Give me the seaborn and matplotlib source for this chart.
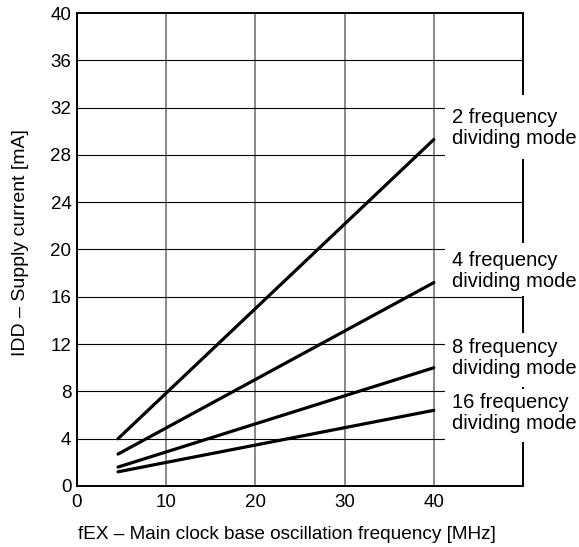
import matplotlib
matplotlib.use("Agg")
import matplotlib.pyplot as plt
import seaborn as sns
import pandas as pd

# data
modes = ["2 frequency\ndividing mode", "4 frequency\ndividing mode",
         "8 frequency\ndividing mode", "16 frequency\ndividing mode"]
freq = [4.6, 40]
current_2 = [4.0, 29.3]
current_4 = [2.7, 17.2]
current_8 = [1.6, 10.0]
current_16 = [1.2, 6.4]
label_y = [30.3, 18.2, 10.8, 6.2]

x_ticks = [0, 10, 20, 30, 40]
y_ticks = list(range(0, 41, 4))

df = pd.DataFrame({
    "freq": freq * 4,
    "current": current_2 + current_4 + current_8 + current_16,
    "mode": [m for m in modes for _ in freq],
})

sns.set_style("white")
plt.rcParams["font.family"] = ["Liberation Sans", "DejaVu Sans"]
plt.rcParams["text.color"] = "black"
plt.rcParams["axes.labelcolor"] = "black"
plt.rcParams["xtick.color"] = "black"
plt.rcParams["ytick.color"] = "black"

fig = plt.figure(figsize=(5.79, 5.47), dpi=100)
ax = fig.add_axes([77 / 579, 1 - 486 / 547, (523 - 77) / 579, (486 - 13) / 547])

# grid: vertical grey, horizontal thin black stopping just past 40
for x in [10, 20, 30, 40]:
    ax.axvline(x, color="#808080", lw=1.3, zorder=1)
for y in y_ticks[1:-1]:
    xmax = 1.0 if y in (16, 24, 36) else 41.1 / 50
    ax.axhline(y, xmin=0, xmax=xmax, color="black", lw=0.8, zorder=1)

sns.lineplot(data=df, x="freq", y="current", units="mode", estimator=None,
             color="black", lw=2.3, ax=ax, zorder=3)

# broken right border
for y0, y1 in [(33.1, 40), (20.55, 27.65), (12.9, 16.07), (8.2, 8.4), (0, 3.7)]:
    ax.plot([50, 50], [y0, y1], color="black", lw=1.4, solid_capstyle="butt",
            clip_on=False, zorder=4)

for m, y in zip(modes, label_y):
    ax.text(42.0, y, m, fontsize=14.5, va="center", ha="left", linespacing=1.12)

ax.set_xlim(0, 50)
ax.set_ylim(0, 40)
ax.set_xticks(x_ticks)
ax.set_yticks(y_ticks)
ax.tick_params(length=0, labelsize=13.5)
ax.tick_params(axis="x", pad=6)
ax.tick_params(axis="y", pad=4)
for s in ["left", "bottom", "top"]:
    ax.spines[s].set_color("black")
    ax.spines[s].set_linewidth(1.4)
ax.spines["right"].set_visible(False)

ax.set_xlabel("fEX – Main clock base oscillation frequency [MHz]", fontsize=13.7)
ax.set_ylabel("IDD – Supply current [mA]", fontsize=14)
ax.xaxis.set_label_coords(0.47, -0.085)
ax.yaxis.set_label_coords(-0.108, 0.515)

fig.savefig("out.png", dpi=100)
